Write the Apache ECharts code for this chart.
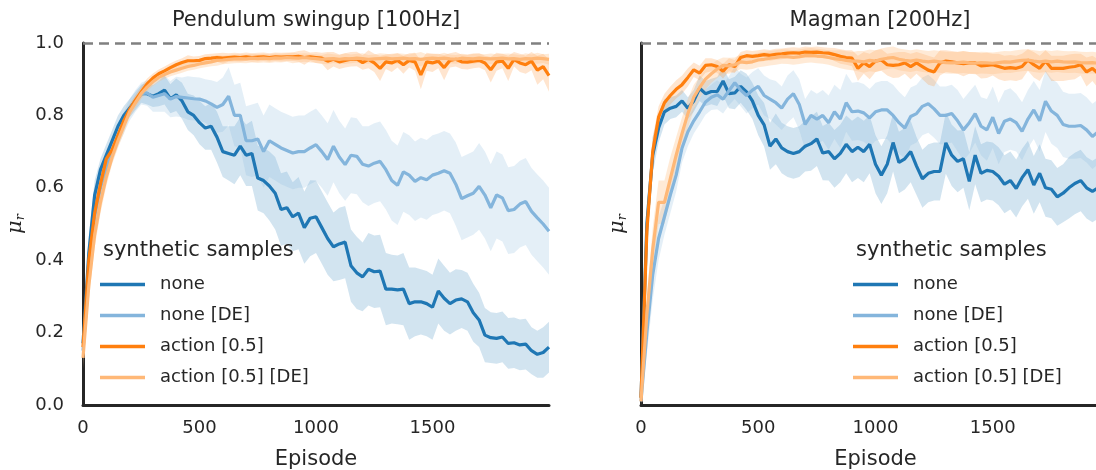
<!DOCTYPE html>
<html>
<head>
<meta charset="utf-8">
<script src="https://cdn.jsdelivr.net/npm/echarts@6/dist/echarts.min.js"></script>
<style>
  html, body { margin: 0; padding: 0; background: #fff; overflow: hidden; }
  #chart { width: 1096px; height: 470px; }
</style>
</head>
<body>
<div id="chart"></div>
<script>
// episodes sampled every 25
const episodes = Array.from({ length: 81 }, (_, i) => i * 25);
const xTicks = { min: 0, max: 2000, interval: 500 };
const yTicks = { min: 0, max: 1, interval: 0.2 };

const seriesNames = ["none", "none [DE]", "action [0.5]", "action [0.5] [DE]"];
const panelTitles = ["Pendulum swingup [100Hz]", "Magman [200Hz]"];

// ---- Pendulum swingup: mean ----
const pendNone = [0.17, 0.42, 0.58, 0.65, 0.69, 0.73, 0.77, 0.80, 0.82, 0.84, 0.86,
  0.86, 0.853, 0.86, 0.87, 0.846, 0.857, 0.84, 0.81, 0.80, 0.78,
  0.765, 0.77, 0.74, 0.70, 0.695, 0.69, 0.715, 0.69, 0.695, 0.627,
  0.62, 0.605, 0.585, 0.54, 0.545, 0.52, 0.53, 0.49, 0.516, 0.52,
  0.49, 0.46, 0.437, 0.445, 0.45, 0.385, 0.365, 0.354, 0.375, 0.368,
  0.37, 0.32, 0.32, 0.318, 0.32, 0.28, 0.285, 0.285, 0.28, 0.27,
  0.315, 0.295, 0.28, 0.29, 0.293, 0.285, 0.255, 0.235, 0.193, 0.186,
  0.184, 0.188, 0.17, 0.172, 0.166, 0.168, 0.15, 0.14, 0.145, 0.16];
const pendNoneDE = [0.15, 0.36, 0.52, 0.60, 0.655, 0.70, 0.745, 0.78, 0.815, 0.84, 0.86,
  0.862, 0.85, 0.855, 0.86, 0.845, 0.852, 0.85, 0.848, 0.846, 0.845,
  0.84, 0.832, 0.822, 0.83, 0.853, 0.80, 0.80, 0.73, 0.73, 0.735,
  0.70, 0.73, 0.72, 0.71, 0.703, 0.696, 0.70, 0.70, 0.71, 0.719,
  0.70, 0.678, 0.715, 0.685, 0.664, 0.69, 0.687, 0.665, 0.66, 0.668,
  0.673, 0.65, 0.62, 0.607, 0.644, 0.635, 0.618, 0.628, 0.622, 0.635,
  0.64, 0.647, 0.64, 0.61, 0.57, 0.578, 0.585, 0.604, 0.58, 0.545,
  0.58, 0.572, 0.537, 0.54, 0.555, 0.562, 0.535, 0.517, 0.50, 0.48];
const pendAct = [0.16, 0.40, 0.53, 0.61, 0.68, 0.705, 0.745, 0.785, 0.816, 0.842, 0.865,
  0.887, 0.903, 0.915, 0.923, 0.932, 0.94, 0.946, 0.951, 0.951, 0.952,
  0.957, 0.958, 0.96, 0.958, 0.96, 0.961, 0.96, 0.962, 0.96, 0.961,
  0.962, 0.96, 0.962, 0.961, 0.962, 0.962, 0.963, 0.96, 0.962, 0.96,
  0.958, 0.95, 0.955, 0.948, 0.952, 0.955, 0.956, 0.946, 0.955, 0.945,
  0.93, 0.948, 0.945, 0.952, 0.94, 0.952, 0.948, 0.912, 0.948, 0.945,
  0.95, 0.932, 0.952, 0.955, 0.948, 0.947, 0.95, 0.952, 0.945, 0.926,
  0.948, 0.95, 0.93, 0.955, 0.945, 0.94, 0.95, 0.925, 0.935, 0.91];
const pendActDE = [0.13, 0.33, 0.47, 0.56, 0.63, 0.685, 0.73, 0.77, 0.81, 0.835, 0.86,
  0.878, 0.893, 0.905, 0.913, 0.92, 0.925, 0.93, 0.935, 0.938, 0.942,
  0.945, 0.948, 0.952, 0.953, 0.955, 0.956, 0.957, 0.956, 0.958, 0.957,
  0.958, 0.957, 0.959, 0.958, 0.96, 0.959, 0.958, 0.96, 0.958, 0.957,
  0.955, 0.956, 0.957, 0.955, 0.957, 0.956, 0.958, 0.957, 0.955, 0.956,
  0.957, 0.958, 0.956, 0.957, 0.958, 0.956, 0.957, 0.955, 0.957, 0.958,
  0.957, 0.958, 0.956, 0.955, 0.958, 0.957, 0.956, 0.958, 0.957, 0.956,
  0.957, 0.958, 0.956, 0.957, 0.955, 0.957, 0.956, 0.958, 0.957, 0.955];

// ---- Pendulum swingup: band half-width ----
const pendNoneStd = [0.04, 0.05, 0.04, 0.03, 0.03, 0.03, 0.03, 0.025, 0.025, 0.025, 0.025,
  0.03, 0.03, 0.035, 0.04, 0.04, 0.045, 0.05, 0.05, 0.055, 0.06,
  0.06, 0.065, 0.07, 0.07, 0.075, 0.08, 0.08, 0.085, 0.09, 0.09,
  0.09, 0.095, 0.1, 0.1, 0.1, 0.095, 0.1, 0.1, 0.105, 0.1,
  0.1, 0.1, 0.095, 0.1, 0.1, 0.1, 0.1, 0.095, 0.1, 0.1,
  0.1, 0.1, 0.095, 0.095, 0.1, 0.1, 0.095, 0.09, 0.09, 0.09,
  0.09, 0.09, 0.085, 0.085, 0.08, 0.08, 0.08, 0.075, 0.075, 0.07,
  0.07, 0.07, 0.07, 0.07, 0.07, 0.07, 0.065, 0.065, 0.07, 0.07];
const pendNoneDEStd = [0.04, 0.05, 0.05, 0.04, 0.035, 0.03, 0.03, 0.03, 0.03, 0.03, 0.03,
  0.035, 0.04, 0.045, 0.05, 0.05, 0.055, 0.055, 0.06, 0.06, 0.06,
  0.06, 0.065, 0.07, 0.075, 0.08, 0.085, 0.09, 0.095, 0.1, 0.1,
  0.1, 0.1, 0.1, 0.1, 0.1, 0.1, 0.1, 0.1, 0.1, 0.1,
  0.1, 0.1, 0.1, 0.1, 0.1, 0.105, 0.105, 0.105, 0.11, 0.11,
  0.11, 0.11, 0.11, 0.11, 0.11, 0.11, 0.11, 0.11, 0.11, 0.11,
  0.11, 0.11, 0.11, 0.115, 0.115, 0.115, 0.115, 0.12, 0.12, 0.12,
  0.12, 0.12, 0.12, 0.12, 0.12, 0.12, 0.12, 0.12, 0.12, 0.12];
const pendActStd = [0.03, 0.04, 0.03, 0.025, 0.02, 0.02, 0.02, 0.018, 0.015, 0.015, 0.015,
  0.015, 0.013, 0.012, 0.012, 0.012, 0.012, 0.012, 0.015, 0.012, 0.012,
  0.012, 0.012, 0.012, 0.015, 0.012, 0.012, 0.012, 0.012, 0.012, 0.012,
  0.012, 0.012, 0.012, 0.012, 0.012, 0.012, 0.015, 0.02, 0.012, 0.015,
  0.015, 0.025, 0.02, 0.02, 0.02, 0.02, 0.02, 0.02, 0.025, 0.025,
  0.035, 0.02, 0.025, 0.02, 0.025, 0.02, 0.025, 0.04, 0.025, 0.025,
  0.02, 0.035, 0.02, 0.02, 0.02, 0.02, 0.02, 0.02, 0.02, 0.035,
  0.025, 0.02, 0.035, 0.02, 0.025, 0.025, 0.025, 0.04, 0.035, 0.045];
const pendActDEStd = [0.03, 0.04, 0.035, 0.03, 0.025, 0.02, 0.02, 0.02, 0.015, 0.015, 0.015,
  0.012, 0.012, 0.012, 0.012, 0.012, 0.012, 0.012, 0.012, 0.012, 0.012,
  0.012, 0.012, 0.015, 0.012, 0.012, 0.012, 0.012, 0.012, 0.012, 0.012,
  0.012, 0.012, 0.012, 0.012, 0.012, 0.015, 0.012, 0.012, 0.012, 0.012,
  0.012, 0.015, 0.012, 0.012, 0.015, 0.012, 0.012, 0.015, 0.012, 0.012,
  0.015, 0.012, 0.012, 0.015, 0.012, 0.012, 0.015, 0.02, 0.012, 0.012,
  0.012, 0.015, 0.012, 0.012, 0.012, 0.012, 0.015, 0.012, 0.012, 0.015,
  0.012, 0.012, 0.015, 0.012, 0.012, 0.015, 0.012, 0.015, 0.012, 0.015];

// ---- Magman: mean ----
const magNone = [0.02, 0.50, 0.69, 0.765, 0.81, 0.82, 0.825, 0.84, 0.82, 0.84, 0.875,
  0.86, 0.866, 0.866, 0.895, 0.86, 0.862, 0.88, 0.865, 0.84, 0.80,
  0.774, 0.715, 0.735, 0.71, 0.70, 0.695, 0.70, 0.715, 0.722, 0.735,
  0.696, 0.70, 0.68, 0.695, 0.72, 0.70, 0.712, 0.70, 0.72, 0.665,
  0.635, 0.665, 0.725, 0.67, 0.68, 0.70, 0.66, 0.625, 0.64, 0.645,
  0.645, 0.724, 0.69, 0.673, 0.68, 0.618, 0.69, 0.64, 0.648, 0.645,
  0.632, 0.61, 0.62, 0.598, 0.628, 0.65, 0.608, 0.64, 0.60, 0.596,
  0.575, 0.585, 0.60, 0.612, 0.62, 0.60, 0.59, 0.60, 0.595, 0.59];
const magNoneDE = [0.01, 0.20, 0.36, 0.46, 0.52, 0.58, 0.635, 0.71, 0.755, 0.785, 0.81,
  0.837, 0.85, 0.857, 0.845, 0.868, 0.89, 0.87, 0.855, 0.87, 0.88,
  0.855, 0.845, 0.835, 0.82, 0.845, 0.86, 0.83, 0.775, 0.80, 0.79,
  0.80, 0.78, 0.81, 0.79, 0.835, 0.81, 0.812, 0.807, 0.793, 0.81,
  0.815, 0.815, 0.80, 0.78, 0.765, 0.797, 0.805, 0.825, 0.832, 0.818,
  0.80, 0.80, 0.805, 0.785, 0.76, 0.78, 0.805, 0.77, 0.76, 0.795,
  0.75, 0.784, 0.79, 0.78, 0.756, 0.79, 0.815, 0.785, 0.839, 0.812,
  0.80, 0.775, 0.77, 0.77, 0.772, 0.76, 0.742, 0.755, 0.75, 0.745];
const magAct = [0.02, 0.48, 0.70, 0.795, 0.835, 0.855, 0.872, 0.885, 0.905, 0.926, 0.917,
  0.938, 0.94, 0.935, 0.922, 0.94, 0.935, 0.96, 0.965, 0.963, 0.965,
  0.968, 0.966, 0.969, 0.97, 0.972, 0.973, 0.972, 0.975, 0.974, 0.975,
  0.973, 0.972, 0.968, 0.963, 0.96, 0.958, 0.93, 0.945, 0.935, 0.95,
  0.953, 0.94, 0.938, 0.94, 0.945, 0.935, 0.945, 0.935, 0.925, 0.92,
  0.945, 0.95, 0.948, 0.945, 0.943, 0.945, 0.945, 0.937, 0.938, 0.94,
  0.935, 0.93, 0.932, 0.93, 0.935, 0.953, 0.94, 0.93, 0.95, 0.93,
  0.93, 0.93, 0.933, 0.935, 0.94, 0.92, 0.93, 0.915, 0.925, 0.92];
const magActDE = [0.01, 0.25, 0.43, 0.56, 0.56, 0.625, 0.69, 0.75, 0.805, 0.85, 0.877,
  0.90, 0.915, 0.928, 0.938, 0.937, 0.94, 0.948, 0.946, 0.948, 0.953,
  0.955, 0.958, 0.96, 0.963, 0.962, 0.96, 0.962, 0.965, 0.966, 0.964,
  0.963, 0.96, 0.957, 0.955, 0.952, 0.95, 0.95, 0.948, 0.952, 0.95,
  0.955, 0.958, 0.96, 0.955, 0.952, 0.95, 0.953, 0.95, 0.948, 0.95,
  0.948, 0.946, 0.945, 0.946, 0.947, 0.945, 0.944, 0.946, 0.945, 0.944,
  0.946, 0.948, 0.947, 0.95, 0.952, 0.953, 0.95, 0.948, 0.95, 0.948,
  0.95, 0.948, 0.947, 0.948, 0.946, 0.945, 0.946, 0.944, 0.945, 0.945];

// ---- Magman: band half-width ----
const magNoneStd = [0.02, 0.06, 0.05, 0.04, 0.035, 0.03, 0.03, 0.03, 0.03, 0.03, 0.035,
  0.035, 0.035, 0.04, 0.04, 0.04, 0.045, 0.045, 0.05, 0.05, 0.055,
  0.06, 0.065, 0.07, 0.07, 0.07, 0.07, 0.07, 0.07, 0.075, 0.075,
  0.075, 0.08, 0.08, 0.08, 0.08, 0.085, 0.085, 0.085, 0.08, 0.08,
  0.08, 0.08, 0.08, 0.085, 0.085, 0.085, 0.08, 0.08, 0.08, 0.08,
  0.08, 0.085, 0.085, 0.085, 0.08, 0.08, 0.08, 0.08, 0.08, 0.08,
  0.08, 0.08, 0.08, 0.08, 0.08, 0.08, 0.08, 0.08, 0.08, 0.08,
  0.08, 0.08, 0.085, 0.085, 0.085, 0.085, 0.085, 0.085, 0.085, 0.085];
const magNoneDEStd = [0.01, 0.06, 0.07, 0.06, 0.05, 0.05, 0.045, 0.04, 0.04, 0.035, 0.035,
  0.035, 0.035, 0.04, 0.04, 0.04, 0.045, 0.045, 0.05, 0.05, 0.05,
  0.055, 0.055, 0.06, 0.06, 0.065, 0.065, 0.07, 0.07, 0.07, 0.07,
  0.07, 0.075, 0.075, 0.08, 0.08, 0.08, 0.08, 0.08, 0.08, 0.08,
  0.08, 0.08, 0.085, 0.085, 0.085, 0.08, 0.08, 0.08, 0.08, 0.08,
  0.08, 0.08, 0.08, 0.085, 0.085, 0.085, 0.08, 0.08, 0.085, 0.085,
  0.085, 0.085, 0.085, 0.08, 0.08, 0.08, 0.08, 0.085, 0.085, 0.09,
  0.09, 0.09, 0.09, 0.09, 0.09, 0.09, 0.09, 0.09, 0.09, 0.09];
const magActStd = [0.02, 0.06, 0.04, 0.03, 0.025, 0.025, 0.025, 0.025, 0.025, 0.02, 0.02,
  0.02, 0.018, 0.018, 0.02, 0.018, 0.018, 0.015, 0.015, 0.015, 0.015,
  0.015, 0.015, 0.015, 0.015, 0.015, 0.015, 0.015, 0.015, 0.015, 0.015,
  0.015, 0.015, 0.018, 0.02, 0.02, 0.022, 0.035, 0.03, 0.035, 0.03,
  0.03, 0.03, 0.035, 0.035, 0.03, 0.035, 0.03, 0.035, 0.04, 0.04,
  0.035, 0.03, 0.03, 0.03, 0.035, 0.03, 0.03, 0.035, 0.035, 0.03,
  0.035, 0.035, 0.035, 0.035, 0.035, 0.03, 0.035, 0.035, 0.03, 0.035,
  0.035, 0.035, 0.035, 0.035, 0.03, 0.04, 0.035, 0.04, 0.035, 0.035];
const magActDEStd = [0.01, 0.05, 0.06, 0.06, 0.06, 0.06, 0.05, 0.045, 0.04, 0.035, 0.03,
  0.028, 0.025, 0.025, 0.022, 0.022, 0.02, 0.02, 0.02, 0.02, 0.02,
  0.02, 0.02, 0.02, 0.02, 0.02, 0.02, 0.02, 0.02, 0.02, 0.02,
  0.02, 0.02, 0.022, 0.025, 0.025, 0.025, 0.028, 0.03, 0.03, 0.03,
  0.03, 0.03, 0.03, 0.03, 0.03, 0.03, 0.03, 0.03, 0.03, 0.03,
  0.03, 0.03, 0.03, 0.03, 0.03, 0.03, 0.03, 0.03, 0.03, 0.03,
  0.03, 0.03, 0.03, 0.03, 0.03, 0.03, 0.03, 0.03, 0.03, 0.03,
  0.03, 0.03, 0.03, 0.03, 0.03, 0.03, 0.03, 0.03, 0.03, 0.03];

const panels = [
  { means: [pendNone, pendNoneDE, pendAct, pendActDE], stds: [pendNoneStd, pendNoneDEStd, pendActStd, pendActDEStd] },
  { means: [magNone, magNoneDE, magAct, magActDE], stds: [magNoneStd, magNoneDEStd, magActStd, magActDEStd] },
];

const FONT = '"DejaVu Sans", sans-serif';
const INK = "#262626";
const colors = ["#1f77b4", "#84b5dc", "#ff7f0e", "#ffb877"];
const bandOpacity = [0.2, 0.22, 0.2, 0.3];

// grid boxes (px); the right one runs past the canvas edge like the original
const grids = [
  { left: 83, top: 43, width: 466, height: 362, outerBoundsMode: "none" },
  { left: 641, top: 43, width: 469, height: 362, outerBoundsMode: "none" },
];

const band = (g, mean, std, color, opacity) => {
  const pts = episodes.map((x, i) => [x, mean[i] - std[i], mean[i] + std[i]]);
  return {
    type: "custom",
    xAxisIndex: g,
    yAxisIndex: g,
    z: 1,
    silent: true,
    data: pts,
    renderItem(params, api) {
      if (params.dataIndex !== 0) return null;
      const up = pts.map((p) => api.coord([p[0], p[2]]));
      const lo = pts.map((p) => api.coord([p[0], p[1]])).reverse();
      return {
        type: "polygon",
        shape: { points: up.concat(lo) },
        style: { fill: color, opacity },
      };
    },
  };
};

const line = (g, k, data) => ({
  type: "line",
  name: seriesNames[k],
  xAxisIndex: g,
  yAxisIndex: g,
  z: 3,
  symbol: "none",
  data: episodes.map((x, i) => [x, data[i]]),
  lineStyle: { width: 3.2, color: colors[k] },
  itemStyle: { color: colors[k] },
});

const series = [];
panels.forEach((p, g) => {
  p.means.forEach((m, k) => series.push(band(g, m, p.stds[k], colors[k], bandOpacity[k])));
  p.means.forEach((m, k) => {
    const s = line(g, k, m);
    if (k === 0) {
      s.markLine = {
        silent: true,
        symbol: "none",
        label: { show: false },
        lineStyle: { type: [10, 6], color: "#808080", width: 2.5 },
        data: [{ yAxis: 1 }],
      };
    }
    series.push(s);
  });
});

const muName = "{mu|μ}{r|r}";
const muRich = {
  mu: { fontFamily: "DejaVu Serif", fontStyle: "italic", fontSize: 21, color: INK },
  r: { fontFamily: "DejaVu Serif", fontStyle: "italic", fontSize: 13, color: INK, verticalAlign: "bottom", padding: [9, 0, 0, 0] },
};

const chart = echarts.init(document.getElementById("chart"));
chart.setOption({
  animation: false,
  textStyle: { fontFamily: FONT },
  title: [
    { text: panelTitles[0], left: 316, top: 10, textAlign: "center", padding: 0 },
    { text: panelTitles[1], left: 880, top: 10, textAlign: "center", padding: 0 },
    { text: "synthetic samples", left: 103, top: 240, padding: 0 },
    { text: "synthetic samples", left: 856, top: 240, padding: 0 },
  ].map((t) => ({ ...t, textStyle: { fontFamily: FONT, fontSize: 21, fontWeight: "normal", color: INK } })),
  legend: [100, 853].map((left) => ({
    left,
    top: 274,
    orient: "vertical",
    padding: 0,
    icon: "rect",
    itemWidth: 45,
    itemHeight: 3.5,
    itemGap: 10,
    selectedMode: false,
    data: seriesNames,
    textStyle: { fontFamily: FONT, fontSize: 18, color: INK, lineHeight: 21, padding: [0, 0, 0, 10] },
  })),
  grid: grids,
  xAxis: grids.map((_, g) => ({
    gridIndex: g,
    type: "value",
    ...xTicks,
    name: "Episode",
    nameLocation: "middle",
    nameGap: 44,
    nameTextStyle: { fontFamily: FONT, fontSize: 21, color: INK },
    axisLine: { lineStyle: { color: INK, width: 3 } },
    axisTick: { show: false },
    splitLine: { show: false },
    axisLabel: { fontFamily: FONT, fontSize: 18, color: INK, margin: 14, showMaxLabel: false, formatter: (v) => String(v) },
  })),
  yAxis: grids.map((_, g) => ({
    gridIndex: g,
    type: "value",
    ...yTicks,
    name: muName,
    nameLocation: "middle",
    nameRotate: 90,
    nameGap: g === 0 ? 56 : 12,
    nameTextStyle: { rich: muRich },
    axisLine: { show: true, lineStyle: { color: INK, width: 3 } },
    axisTick: { show: false },
    splitLine: { show: false },
    axisLabel: {
      show: g === 0,
      fontFamily: FONT,
      fontSize: 18,
      color: INK,
      margin: 19,
      formatter: (v) => v.toFixed(1),
    },
  })),
  series,
});
</script>
</body>
</html>
